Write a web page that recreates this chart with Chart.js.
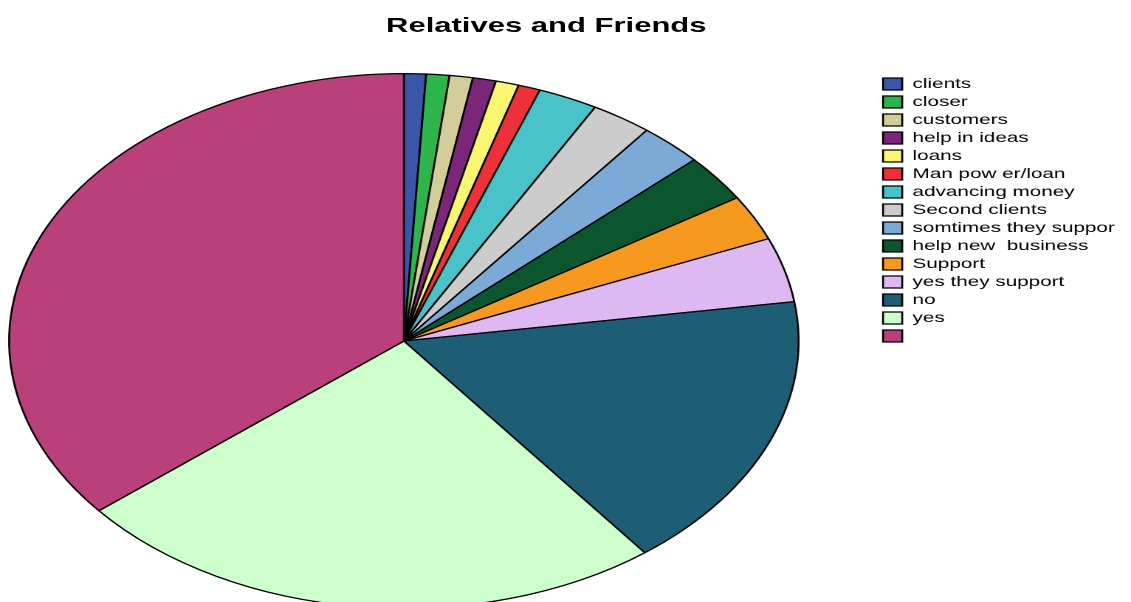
<!DOCTYPE html>
<html>
<head>
<meta charset="utf-8">
<title>Relatives and Friends</title>
<script src="https://cdn.jsdelivr.net/npm/chart.js@4.4.1/dist/chart.umd.min.js"></script>
<style>
  html, body { margin: 0; padding: 0; background: #fff; overflow: hidden; }
  /* the whole figure is drawn at a narrower width and widened, which gives the oval pie and wide lettering */
  #stage {
    position: absolute; left: 0; top: 0;
    width: 766px; height: 602px; overflow: hidden;
    transform: scaleX(1.4765); transform-origin: 0 0;
  }
  /* the canvas reaches a little past the left and bottom edges so the pie sits where it should */
  #stage canvas { position: absolute; left: -47px; top: 0; }
  #title {
    position: absolute; left: 0; top: 13px; width: 740px;
    text-align: center; color: #000;
    font: bold 21px "Liberation Sans", Arial, sans-serif; line-height: 24px;
  }
</style>
</head>
<body>
<div id="stage">
  <canvas id="chart" width="813" height="609"></canvas>
  <div id="title">Relatives and Friends</div>
</div>
<script>
// answer categories, in slice order (clockwise from 12 o'clock)
const categories = [
  'clients', 'closer', 'customers', 'help in ideas', 'loans', 'Man pow er/loan',
  'advancing money', 'Second clients', 'somtimes they suppor', 'help new  business',
  'Support', 'yes they support', 'no', 'yes', ''
];

// share of answers, percent
const shares = [0.9, 0.95, 0.95, 0.95, 0.95, 0.9, 2.45, 2.5, 2.6, 2.85, 2.75, 3.9, 16.9, 24.5, 35.95];

const sliceColors = [
  '#3B56A8', '#2DB44A', '#D3CE99', '#7B2679', '#FAF66F', '#EE3138',
  '#49C3C8', '#CCCCCC', '#7CAAD6', '#0B562E', '#F7991E', '#DEB9F1',
  '#1D5E75', '#CCFFCC', '#BA407B'
];

new Chart(document.getElementById('chart'), {
  type: 'pie',
  data: {
    labels: categories,
    datasets: [{
      data: shares,
      backgroundColor: sliceColors,
      borderColor: '#000',
      borderWidth: 1.3
    }]
  },
  options: {
    responsive: false,
    animation: false,
    devicePixelRatio: 2,
    events: [],
    layout: { padding: { left: 0, right: 1, top: 73, bottom: 0 } },
    plugins: {
      title: { display: false },
      tooltip: { enabled: false },
      legend: {
        position: 'right',
        align: 'start',
        fullSize: false,
        labels: {
          boxWidth: 13,
          boxHeight: 12,
          padding: 4,
          color: '#000',
          font: { family: '"Liberation Sans", Arial, sans-serif', size: 14 }
        }
      }
    }
  }
});
</script>
</body>
</html>
